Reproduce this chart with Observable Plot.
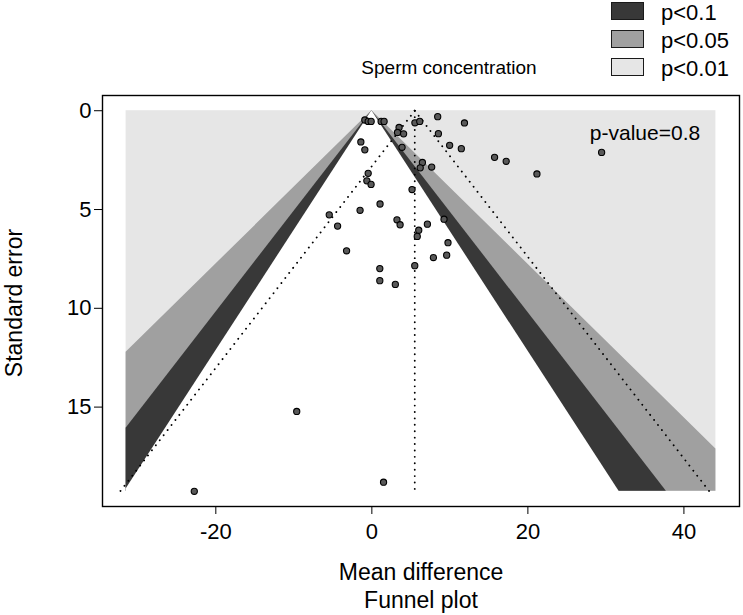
<!DOCTYPE html>
<html><head><meta charset="utf-8">
<script src="https://cdn.jsdelivr.net/npm/d3@7"></script>
<script src="https://cdn.jsdelivr.net/npm/@observablehq/plot@0.6"></script>
<style>
body{margin:0;background:#fff;}
#wrap{position:relative;width:743px;height:615px;font-family:"Liberation Sans",Arial,sans-serif;color:#000;overflow:hidden;}
#wrap svg{position:absolute;left:0;top:0;}
.lbl{position:absolute;white-space:nowrap;line-height:1.15;transform:translate(-50%,-50%);}
.leg{position:absolute;white-space:nowrap;line-height:1.15;}
.box{position:absolute;border:1px solid #1a1a1a;box-sizing:border-box;}
</style></head><body><div id="wrap"></div>
<script>
// ---- data ----
const meanDiff = [-0.90,-0.47,-0.09,1.19,1.57,5.52,6.14,8.44,11.87,3.49,3.29,4.07,8.53,-1.41,-0.90,3.87,9.97,11.47,15.73,17.22,21.16,6.48,6.20,7.67,-0.47,-0.64,-0.10,5.15,-1.51,1.05,3.22,3.62,7.12,9.25,6.01,5.82,-3.24,9.76,7.89,9.59,5.50,1.02,1.02,3.01,-5.46,-4.39,29.45,-22.76,-9.63,1.50];
const stdErr   = [0.47,0.54,0.54,0.54,0.54,0.61,0.54,0.30,0.62,0.85,1.10,1.17,1.16,1.58,1.98,1.85,1.75,1.92,2.36,2.56,3.20,2.62,2.89,2.85,3.17,3.55,3.73,3.99,5.04,4.72,5.52,5.77,5.74,5.49,6.05,6.36,7.09,6.68,7.43,7.31,7.84,7.99,8.60,8.79,5.27,5.84,2.11,19.26,15.22,18.80];
const pooledEstimate = 5.5;
const levelLabels = ["p<0.1","p<0.05","p<0.01"];
const levelZ = [1.645, 1.96, 2.576];
const levelFill = ["#383838","#a0a0a0","#e6e6e6"];
const xTicks = [-20, 0, 20, 40];
const yTicks = [0, 5, 10, 15];
const xLim = [-31.5, 44.1];
const titleText = "Sperm concentration";
const pValueText = "p-value=0.8";
const xTitle = ["Mean difference", "Funnel plot"];
const yTitle = "Standard error";

// ---- derived ----
const studies = meanDiff.map((x, i) => ({x, se: stdErr[i]}));
const seMax = d3.max(stdErr);
const xPad = 0.04 * (xLim[1] - xLim[0]);
const yPad = 0.04 * seMax;

function bandRows(z, seEnd) {
  const ses = [0, seEnd];
  if (-xLim[0] / z < seEnd) ses.push(-xLim[0] / z);
  if (xLim[1] / z < seEnd) ses.push(xLim[1] / z);
  ses.sort((a, b) => a - b);
  return ses.map(se => ({se, x1: Math.max(xLim[0], -z * se), x2: Math.min(xLim[1], z * se)}));
}
const bgRect = [{x1: xLim[0], x2: xLim[1], y1: 0, y2: seMax}];
const ciRows = [0, seMax].map(se => ({se, lo: pooledEstimate - 1.96 * se, hi: pooledEstimate + 1.96 * se}));
const dotted = {stroke: "#000", strokeWidth: 1.9, strokeDasharray: "0.01,6.4", strokeLinecap: "round"};

const plot = Plot.plot({
  width: 743, height: 615,
  marginLeft: 102, marginRight: 4, marginTop: 95, marginBottom: 109,
  style: {fontFamily: '"Liberation Sans", Arial, sans-serif', fontSize: "22px", color: "#000", background: "transparent"},
  x: {domain: [xLim[0] - xPad, xLim[1] + xPad], ticks: xTicks, tickFormat: d => String(d), tickSize: 8, tickPadding: 9, label: null},
  y: {domain: [-yPad, seMax + yPad], reverse: true, ticks: yTicks, tickFormat: d => String(d), tickSize: 8, tickPadding: 3, label: null},
  marks: [
    Plot.rect(bgRect, {x1: "x1", x2: "x2", y1: "y1", y2: "y2", fill: levelFill[2]}),
    Plot.areaX(bandRows(levelZ[2], seMax), {y: "se", x1: "x1", x2: "x2", fill: levelFill[1]}),
    Plot.areaX(bandRows(levelZ[1], seMax), {y: "se", x1: "x1", x2: "x2", fill: levelFill[0]}),
    Plot.areaX(bandRows(levelZ[0], seMax + 0.12), {y: "se", x1: "x1", x2: "x2", fill: "#ffffff"}),
    Plot.line(ciRows, {x: "lo", y: "se", ...dotted}),
    Plot.line(ciRows, {x: "hi", y: "se", ...dotted}),
    Plot.line(ciRows, {x: () => pooledEstimate, y: "se", ...dotted}),
    Plot.dot(studies, {x: "x", y: "se", r: 3.1, fill: "#595959", stroke: "#000", strokeWidth: 1.1}),
    Plot.frame({stroke: "#000", strokeWidth: 1.4})
  ]
});
const wrap = document.getElementById("wrap");
wrap.appendChild(plot);

function addLabel(text, cx, cy, size, rotate) {
  const d = document.createElement("div");
  d.className = "lbl";
  d.textContent = text;
  d.style.left = cx + "px";
  d.style.top = cy + "px";
  d.style.fontSize = size + "px";
  if (rotate) d.style.transform = "translate(-50%,-50%) rotate(-90deg)";
  wrap.appendChild(d);
}
addLabel(titleText, 449, 68, 19);
addLabel(pValueText, 645, 133, 21);
addLabel(xTitle[0], 421, 572, 23);
addLabel(xTitle[1], 421, 600, 23);
addLabel(yTitle, 14, 303, 23, true);

levelLabels.forEach((lab, i) => {
  const b = document.createElement("div");
  b.className = "box";
  b.style.left = "611px"; b.style.top = (2 + 28 * i) + "px";
  b.style.width = "33px"; b.style.height = "18px";
  b.style.background = levelFill[i];
  wrap.appendChild(b);
  const t = document.createElement("div");
  t.className = "leg";
  t.textContent = lab;
  t.style.left = "661px"; t.style.top = (0 + 28 * i) + "px";
  t.style.fontSize = "22px";
  wrap.appendChild(t);
});
</script></body></html>
